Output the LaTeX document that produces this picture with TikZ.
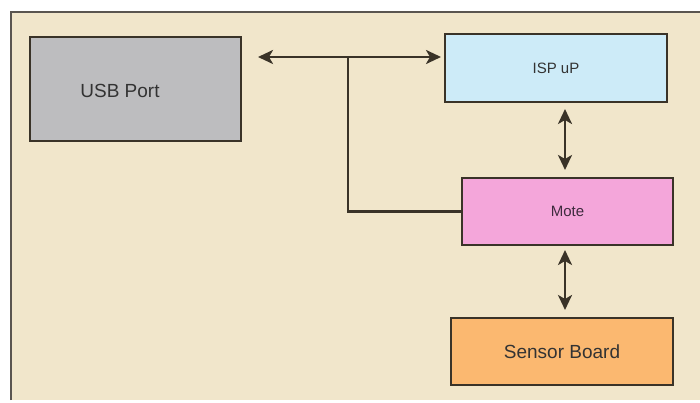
\documentclass[tikz,border=0pt]{standalone}
\usepackage{fontspec}
\setmainfont{Liberation Sans}
\usetikzlibrary{arrows.meta,calc}
\definecolor{panel}{HTML}{F1E6CB}
\definecolor{edge}{HTML}{3A3328}
\definecolor{frameline}{HTML}{5A5550}
\definecolor{usbfill}{HTML}{BDBDBF}
\definecolor{ispfill}{HTML}{CDEBF8}
\definecolor{motefill}{HTML}{F4A6DA}
\definecolor{sensorfill}{HTML}{FBB870}
\definecolor{labeltext}{HTML}{333333}
\tikzset{
  block/.style={draw=edge, line width=2.7pt, inner sep=0pt, outer sep=0pt, text=labeltext},
  link/.style={draw=edge, line width=2.6pt},
  biarrow/.style={link, {Stealth[length=15pt,width=14pt,inset=4pt]}-{Stealth[length=15pt,width=14pt,inset=4pt]}},
}
\begin{document}
\begin{tikzpicture}[x=1pt, y=-1pt]
  \useasboundingbox (0,0) rectangle (700,403);
  % backdrop panel with its frame
  \fill[white] (0,0) rectangle (700,403);
  \fill[panel] (11,12) rectangle (700,400);
  \draw[frameline, line width=2.4pt] (11,400) -- (11,12) -- (700,12);

  % blocks
  \node[block, fill=usbfill, minimum width=211pt, minimum height=104pt, anchor=north west] (usb) at (30,37) {};
  \node[font=\fontsize{19}{21}\selectfont, text=labeltext] (usblabel) at (120,91) {USB Port};

  \node[block, fill=ispfill, minimum width=222pt, minimum height=68pt, anchor=north west, font=\fontsize{15}{17}\selectfont] (isp) at (445,34) {ISP uP};
  \node[block, fill=motefill, minimum width=211pt, minimum height=67pt, anchor=north west, font=\fontsize{15}{17}\selectfont, text=labeltext!85!violet] (mote) at (462,178) {Mote};
  \node[block, fill=sensorfill, minimum width=222pt, minimum height=67pt, anchor=north west, font=\fontsize{19}{21}\selectfont] (sensor) at (451,318) {Sensor Board};

  % connectors
  \coordinate (usbend) at (258,57);
  \coordinate (ispend) at (441,57);
  \coordinate (tee) at (348,57);
  \draw[biarrow] (usbend) -- (ispend);
  \draw[link] (tee) |- (mote.west);
  \coordinate (upA) at (565,109);
  \coordinate (downA) at (565,170);
  \coordinate (upB) at (565,250);
  \coordinate (downB) at (565,310);
  \draw[biarrow] (upA) -- (downA);
  \draw[biarrow] (upB) -- (downB);
\end{tikzpicture}
\end{document}
